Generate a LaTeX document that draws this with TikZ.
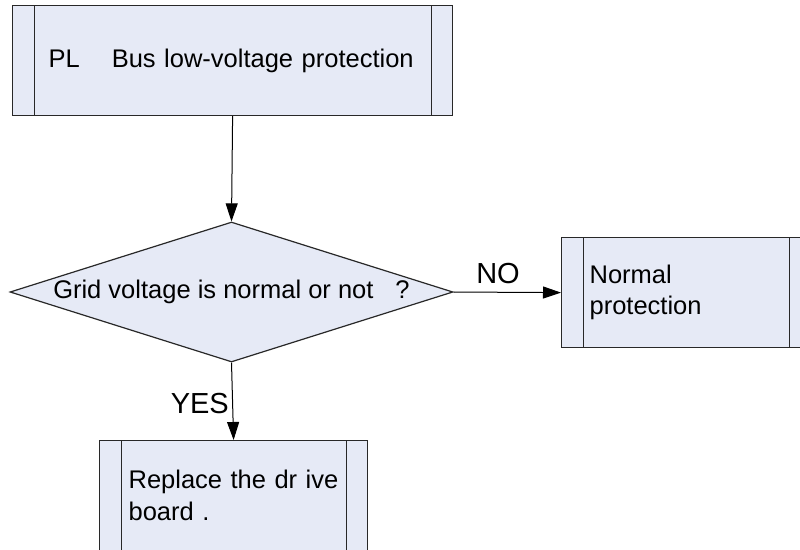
\documentclass[tikz,border=0pt]{standalone}
\usepackage{fontspec}
\setmainfont{Liberation Sans}
\usetikzlibrary{shapes.geometric,arrows.meta,calc}
\definecolor{boxfill}{RGB}{230,234,246}
\definecolor{edge}{RGB}{40,40,40}
\tikzset{
  procbox/.style={draw=edge, fill=boxfill, line width=1.2pt, rectangle, minimum height=110pt, align=left, anchor=north west, inner ysep=0pt},
  decision/.style={draw=edge, fill=boxfill, line width=1.2pt, diamond, aspect=3.16, minimum width=443pt, minimum height=140pt, inner sep=0pt},
  conn/.style={draw=black, line width=1pt, -{Triangle[length=18pt,width=12pt]}},
  lbl/.style={inner sep=0pt, anchor=base, font=\fontsize{29}{34}\selectfont}
}
\begin{document}
\begin{tikzpicture}[x=1pt,y=-1pt, font=\fontsize{25.5}{31.5}\selectfont]
\useasboundingbox (0,0) rectangle (800,549);
\clip (0,0) rectangle (800,549);
\fill[white] (0,0) rectangle (800,549);
% top box
\node[procbox, minimum width=440pt, text width=368pt, inner xsep=36pt] (pl) at (12,5) {PL\hspace{32pt}Bus low-voltage protection};
% decision
\node[decision] (dec) at (231.5,292) {\raisebox{-3pt}{Grid voltage is normal or not\hspace{22pt}?}};
% right box
\node[procbox, minimum width=249pt, text width=193pt, inner xsep=28pt] (np) at (561,237) {Normal\\protection};
% bottom box
\node[procbox, minimum width=268pt, text width=210pt, inner xsep=29pt] (rd) at (99,440) {Replace the dr ive\\board .};
% inner side lines
\foreach \n in {pl,np,rd}{
  \draw[edge, line width=1pt] ($(\n.north west)+(22,0)$) -- ($(\n.south west)+(22,0)$);
  \draw[edge, line width=1pt] ($(\n.north east)+(-22,0)$) -- ($(\n.south east)+(-22,0)$);
}
% connectors
\draw[conn] (pl.south) -- (dec.north);
\draw[conn] (dec.east) -- (np.west);
\draw[conn] (dec.south) -- (rd.north);
% labels
\node[lbl] (no) at (498,283) {NO};
\node[lbl, anchor=base east] (yes) at (229,413) {YES};
\end{tikzpicture}
\end{document}
